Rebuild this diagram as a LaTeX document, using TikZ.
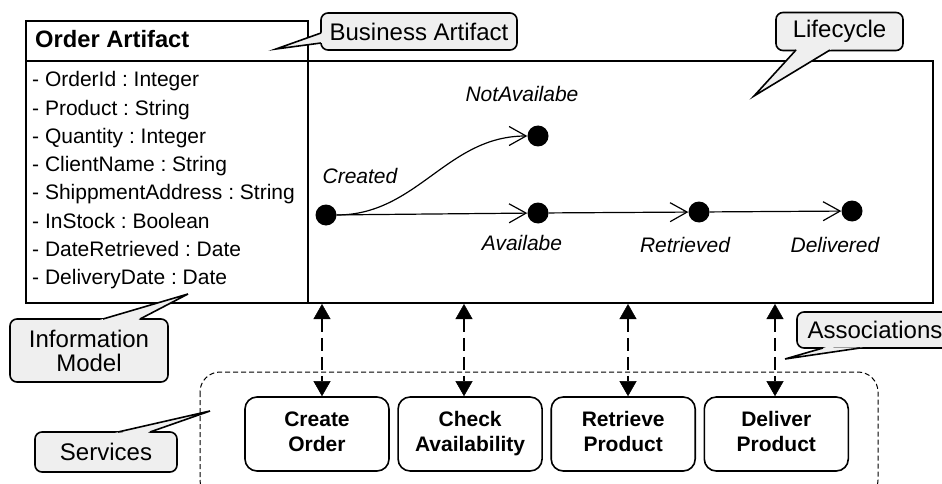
\documentclass[tikz,border=0pt]{standalone}
\usepackage{fontspec}
\setmainfont{Liberation Sans}
\usepackage{tikz}
\usetikzlibrary{arrows.meta,calc,positioning}
\frenchspacing

\definecolor{calloutgray}{HTML}{EFEFEF}

\tikzset{
  boxline/.style={line width=1.5pt},
  attr/.style={anchor=base west, inner sep=0pt, font=\fontsize{21}{25}\selectfont},
  statedot/.style={circle, fill=black, inner sep=0pt, minimum size=21pt},
  statelabel/.style={anchor=base, inner sep=0pt, font=\fontsize{21}{25}\selectfont\itshape},
  trans/.style={line width=1.2pt, -{Straight Barb[length=17pt,width=19pt,line width=1.2pt]}},
  assoc/.style={line width=2.8pt, dash pattern=on 13pt off 6pt,
    {Triangle[length=15pt,width=17pt,line width=0.5pt]}-{Triangle[length=15pt,width=17pt,line width=0.5pt]}},
  service/.style={draw, line width=1.6pt, rounded corners=12pt, minimum width=144pt, minimum height=74pt,
    align=center, font=\fontsize{21}{25}\selectfont\bfseries,
    execute at begin node={\rule{0pt}{20pt}}, execute at end node={\vphantom{y}}},
  container/.style={line width=1pt, dash pattern=on 5pt off 3pt, rounded corners=20pt},
  callout/.style={draw, line width=1.6pt, fill=calloutgray, rounded corners=7pt, align=center,
    font=\fontsize{24}{24}\selectfont},
  pointerline/.style={line width=1.6pt, line join=miter},
}

\begin{document}
\begin{tikzpicture}[x=1pt,y=-1pt]
  \useasboundingbox (0,0) rectangle (942,484);

  \draw[boxline] (26,21) rectangle (308,303);
  \draw[boxline] (26,61) -- (308,61);
  \draw[boxline] (308,61) rectangle (933,303);

  \node[anchor=base west, inner sep=0pt, font=\fontsize{23.7}{28}\selectfont\bfseries] (artifact) at (35,48) {Order Artifact};
  \foreach \attr [count=\i] in {OrderId : Integer, Product : String, Quantity : Integer, ClientName : String,
      ShippmentAddress : String, InStock : Boolean, DateRetrieved : Date, DeliveryDate : Date}
    \node[attr] (attr\i) at (32,{87+28.2*(\i-1)}) {- \attr};

  \node[statedot] (created) at (326,215) {};
  \node[statedot] (notavail) at (538,136) {};
  \node[statedot] (avail) at (538,213) {};
  \node[statedot] (retrieved) at (699,212) {};
  \node[statedot] (delivered) at (852,211) {};

  \node[statelabel] (createdlbl) at (360,183) {Created};
  \node[statelabel] (notavaillbl) at (522,102) {NotAvailabe};
  \node[statelabel] (availlbl) at (522,250) {Availabe};
  \node[statelabel] (retrievedlbl) at (685,252) {Retrieved};
  \node[statelabel] (deliveredlbl) at (835,252) {Delivered};

  \draw[trans] (created.east) to[out=0,in=180] (notavail.west);
  \draw[trans] (created) -- (avail);
  \draw[trans] (avail) -- (retrieved);
  \draw[trans] (retrieved) -- (delivered);

  \draw[container] (200,372) rectangle (878,500);

  \node[service] (createorder) at (317,434) {Create\\Order};
  \node[service, right=7.5pt of createorder] (checkavail) {Check\\Availability};
  \node[service, right=7.5pt of checkavail] (retrieveprod) {Retrieve\\Product};
  \node[service, right=7.5pt of retrieveprod] (deliverprod) {Deliver\\Product};

  \coordinate (lc1) at (322,304);
  \coordinate (lc2) at (464,304);
  \coordinate (lc3) at (628,304);
  \coordinate (lc4) at (775,304);
  \draw[assoc] (lc1) -- (lc1 |- createorder.north);
  \draw[assoc] (lc2) -- (lc2 |- checkavail.north);
  \draw[assoc] (lc3) -- (lc3 |- retrieveprod.north);
  \draw[assoc] (lc4) -- (lc4 |- deliverprod.north);

  \node[callout, minimum width=196pt, minimum height=37pt] (bizart) at (419,31.5) {Business Artifact};
  \coordinate (bizarttip) at (276,49);
  \coordinate (bizart1) at (321,33);
  \coordinate (bizart2) at (321,43);
  \fill[calloutgray] (bizarttip) -- ($(bizart1)!-3pt!(bizarttip)$) -- ($(bizart2)!-3pt!(bizarttip)$) -- cycle;
  \draw[pointerline] (bizart1) -- (bizarttip) -- (bizart2);

  \node[callout, minimum width=127pt, minimum height=38pt] (lifecycle) at (839.5,31.5) {Lifecycle};
  \coordinate (lifecycletip) at (754,96);
  \coordinate (lifecycle1) at (796,50);
  \coordinate (lifecycle2) at (830,50);
  \fill[calloutgray] (lifecycletip) -- ($(lifecycle1)!-3pt!(lifecycletip)$) -- ($(lifecycle2)!-3pt!(lifecycletip)$) -- cycle;
  \draw[pointerline] (lifecycle1) -- (lifecycletip) -- (lifecycle2);

  \node[callout, minimum width=158pt, minimum height=63pt] (infomodel) at (89,350.5) {Information\\Model};
  \coordinate (infomodeltip) at (188,294);
  \coordinate (infomodel1) at (103,319);
  \coordinate (infomodel2) at (140,319);
  \fill[calloutgray] (infomodeltip) -- ($(infomodel1)!-3pt!(infomodeltip)$) -- ($(infomodel2)!-3pt!(infomodeltip)$) -- cycle;
  \draw[pointerline] (infomodel1) -- (infomodeltip) -- (infomodel2);

  \node[callout, minimum width=142pt, minimum height=40pt] (services) at (106,452) {Services};
  \coordinate (servicestip) at (210,411);
  \coordinate (services1) at (118,432);
  \coordinate (services2) at (150,432);
  \fill[calloutgray] (servicestip) -- ($(services1)!-3pt!(servicestip)$) -- ($(services2)!-3pt!(servicestip)$) -- cycle;
  \draw[pointerline] (services1) -- (servicestip) -- (services2);

  \node[callout, minimum width=156pt, minimum height=36pt] (assocs) at (875,330) {Associations};
  \coordinate (assocstip) at (785,359);
  \coordinate (assocs1) at (823,348);
  \coordinate (assocs2) at (860,348);
  \fill[calloutgray] (assocstip) -- ($(assocs1)!-3pt!(assocstip)$) -- ($(assocs2)!-3pt!(assocstip)$) -- cycle;
  \draw[pointerline] (assocs1) -- (assocstip) -- (assocs2);
\end{tikzpicture}
\end{document}
